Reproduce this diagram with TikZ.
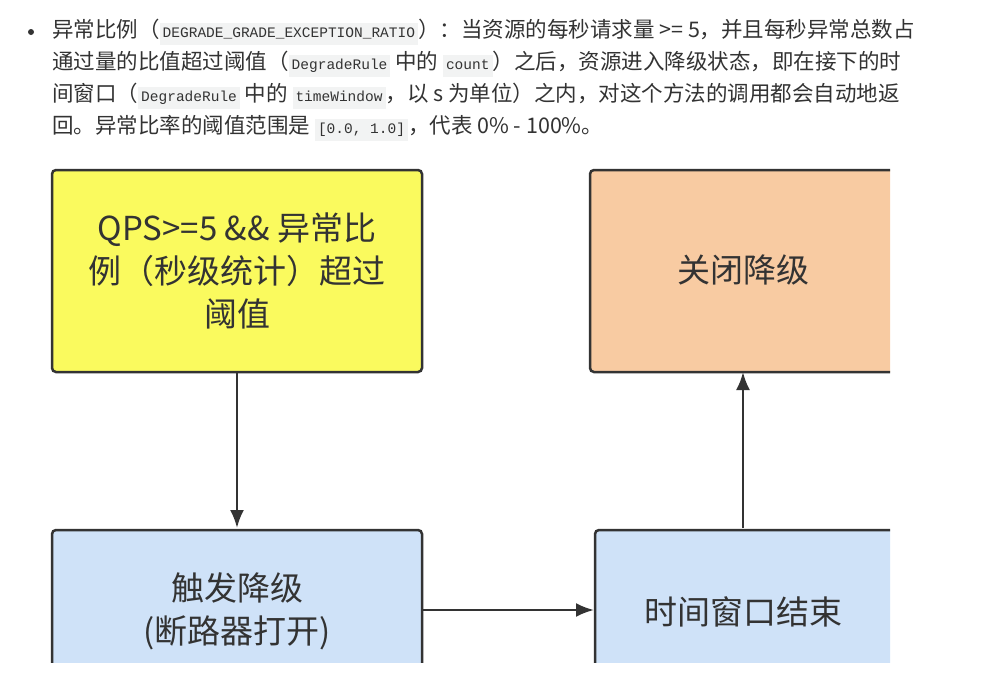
\documentclass[tikz,border=0pt]{standalone}
\usepackage{fontspec}
\usetikzlibrary{arrows.meta}
\setmainfont{Noto Sans CJK SC}
\newfontfamily\cjk{Noto Sans CJK SC}
\newfontfamily\codefont{Liberation Mono}
\definecolor{codebg}{HTML}{F2F3F3}
\definecolor{txt}{HTML}{333333}
\definecolor{yel}{HTML}{FAFA5E}
\definecolor{org}{HTML}{F8CBA2}
\definecolor{blu}{HTML}{CFE2F8}
\definecolor{edge}{HTML}{333333}
\newcommand{\cd}[1]{{\setlength{\fboxsep}{3pt}\colorbox{codebg}{\codefont\fontsize{14.5}{16}\selectfont\strut #1}}}
\begin{document}
\begin{tikzpicture}[x=1pt,y=-1pt,
  para/.style={anchor=west,inner sep=0pt,text=txt,font=\fontsize{21.5}{24}\selectfont},
  boxs/.style={draw=edge,line width=2.5pt,rounded corners=4pt},
  lbl/.style={text=txt,font=\fontsize{33}{43}\selectfont,align=center},
  arr/.style={draw=edge,line width=2.5pt,-{Latex[length=18pt,width=14pt]}}]
\useasboundingbox (0,0) rectangle (985,683);
\fill[white] (0,0) rectangle (985,683);
\fill[txt] (31,32) circle (3);
\node[para] (l1) at (52,32) {异常比例（\cd{DEGRADE\_GRADE\_EXCEPTION\_RATIO}）：当资源的每秒请求量 >= 5，并且每秒异常总数占};
\node[para] (l2) at (52,64) {通过量的比值超过阈值（\cd{DegradeRule} 中的 \cd{count}）之后，资源进入降级状态，即在接下的时};
\node[para] (l3) at (52,96) {间窗口（\cd{DegradeRule} 中的 \cd{timeWindow}，以 s 为单位）之内，对这个方法的调用都会自动地返};
\node[para] (l4) at (52,128) {回。异常比率的阈值范围是 \cd{[0.0, 1.0]}，代表 0\% - 100\%。};
\begin{scope}
\clip (0,150) rectangle (890,662);
\draw[boxs,fill=yel] (52,170) rectangle (422,372);
\draw[boxs,fill=org] (590,170) rectangle (900,372);
\draw[boxs,fill=blu] (52,530) rectangle (422,700);
\draw[boxs,fill=blu] (595,530) rectangle (900,700);
\coordinate (y) at (237,372); \coordinate (yb) at (237,528);
\coordinate (lb) at (422,610); \coordinate (rb) at (594,610);
\coordinate (rt) at (743,528); \coordinate (ot) at (743,372);
\end{scope}
\node[lbl] (t1) at (237,271) {QPS>=5 \&\& 异常比\\例（秒级统计）超过\\阈值};
\node[lbl] (t2) at (743,270) {关闭降级};
\node[lbl] (t3) at (237,611) {触发降级\\(断路器打开)};
\node[lbl] (t4) at (743,612) {时间窗口结束};
\draw[arr] (y) -- (yb);
\draw[arr] (lb) -- (rb);
\draw[arr] (rt) -- (ot);
\end{tikzpicture}
\end{document}
